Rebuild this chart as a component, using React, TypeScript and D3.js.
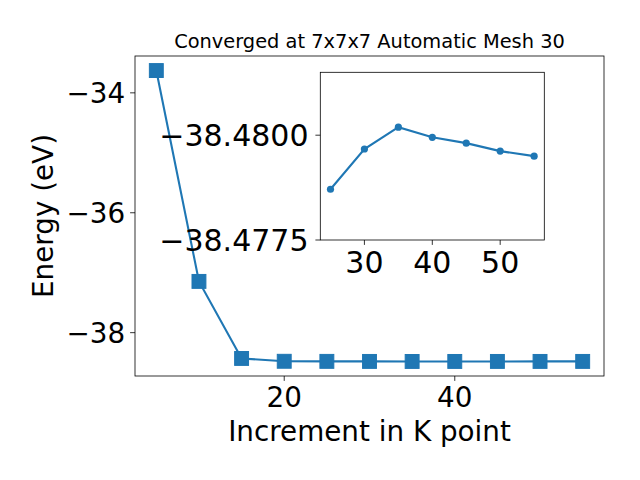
import React from "react";
import * as d3 from "d3";

const kPoints = [5, 10, 15, 20, 25, 30, 35, 40, 45, 50, 55];
const energies = [-33.628, -37.145, -38.43, -38.4772, -38.47871, -38.47967, -38.48019, -38.47995, -38.47981, -38.47962, -38.4795];
const insetK = [25, 30, 35, 40, 45, 50, 55];
const insetE = [-38.47871, -38.47967, -38.48019, -38.47995, -38.47981, -38.47962, -38.4795];
const mainXTicks = [20, 40];
const mainYTicks = [-38, -36, -34];
const insetXTicks = [30, 40, 50];
const insetYTicks = [-38.48, -38.4775];
const title = "Converged at 7x7x7 Automatic Mesh 30";
const xLabel = "Increment in K point";
const yLabel = "Energy (eV)";

const C = "#1f77b4";
const FONT = "DejaVu Sans";

export default function App() {
  const L = 135, R = 604, T = 56, B = 376;
  const ymin = d3.min(energies)!, ymax = d3.max(energies)!;
  const pad = (ymax - ymin) * 0.05;
  const x = d3.scaleLinear().domain([2.5, 57.5]).range([L, R]);
  const y = d3.scaleLinear().domain([ymin - pad, ymax + pad]).range([B, T]);
  const line = d3.line<number>().x((_, i) => x(kPoints[i])).y((d) => y(d));

  const iL = 320.3, iR = 544.3, iT = 72.3, iB = 240;
  const ix = d3.scaleLinear().domain([23.5, 56.5]).range([iL, iR]);
  const iy = d3.scaleLinear().domain([-38.4815, -38.4775]).range([iT, iB]);
  const iline = d3.line<number>().x((_, i) => ix(insetK[i])).y((d) => iy(d));

  const fmtMain = (v: number) => (v < 0 ? "\u2212" : "") + Math.abs(v).toFixed(0);
  const fmtInset = (v: number) => (v < 0 ? "\u2212" : "") + Math.abs(v).toFixed(4);
  const fs = 27.8;
  const ifs = 30;

  return (
    <svg width={640} height={480} style={{ position: "absolute", left: 0, top: 0, background: "#fff" }} fontFamily={FONT}>
      <rect x={0} y={0} width={640} height={480} fill="#fff" />
      <text x={(L + R) / 2} y={48.3} fontSize={19.4} textAnchor="middle">{title}</text>
      {/* main ticks */}
      {mainXTicks.map((t) => (
        <g key={"mx" + t}>
          <line x1={x(t)} x2={x(t)} y1={B} y2={B + 4.9} stroke="#000" strokeWidth={0.8} />
          <text x={x(t)} y={406.5} fontSize={fs} textAnchor="middle">{t}</text>
        </g>
      ))}
      {mainYTicks.map((t) => (
        <g key={"my" + t}>
          <line x1={L - 4.9} x2={L} y1={y(t)} y2={y(t)} stroke="#000" strokeWidth={0.8} />
          <text x={L - 9.8} y={y(t)} dy="0.36em" fontSize={fs} textAnchor="end">{fmtMain(t)}</text>
        </g>
      ))}
      <text x={(L + R) / 2} y={440.5} fontSize={fs} textAnchor="middle">{xLabel}</text>
      <text transform={`translate(53,${(T + B) / 2}) rotate(-90)`} fontSize={fs} textAnchor="middle">{yLabel}</text>
      <path d={line(energies)!} fill="none" stroke={C} strokeWidth={2.1} />
      {energies.map((e, i) => (
        <rect key={"m" + i} x={x(kPoints[i]) - 6.95} y={y(e) - 6.95} width={13.9} height={13.9} fill={C} stroke={C} strokeWidth={1} />
      ))}
      <rect x={L} y={T} width={R - L} height={B - T} fill="none" stroke="#000" strokeWidth={0.8} />

      {/* inset */}
      <rect x={iL} y={iT} width={iR - iL} height={iB - iT} fill="#fff" stroke="none" />
      {insetXTicks.map((t) => (
        <g key={"ix" + t}>
          <line x1={ix(t)} x2={ix(t)} y1={iB} y2={iB + 4.9} stroke="#000" strokeWidth={0.8} />
          <text x={ix(t)} y={272.7} fontSize={ifs} textAnchor="middle">{t}</text>
        </g>
      ))}
      {insetYTicks.map((t) => (
        <g key={"iy" + t}>
          <line x1={iL - 4.9} x2={iL} y1={iy(t)} y2={iy(t)} stroke="#000" strokeWidth={0.8} />
          <text x={iL - 11.8} y={iy(t)} dy="0.36em" fontSize={ifs} textAnchor="end">{fmtInset(t)}</text>
        </g>
      ))}
      <path d={iline(insetE)!} fill="none" stroke={C} strokeWidth={2.1} />
      {insetE.map((e, i) => (
        <circle key={"c" + i} cx={ix(insetK[i])} cy={iy(e)} r={3.6} fill={C} />
      ))}
      <rect x={iL} y={iT} width={iR - iL} height={iB - iT} fill="none" stroke="#000" strokeWidth={0.8} />
    </svg>
  );
}
